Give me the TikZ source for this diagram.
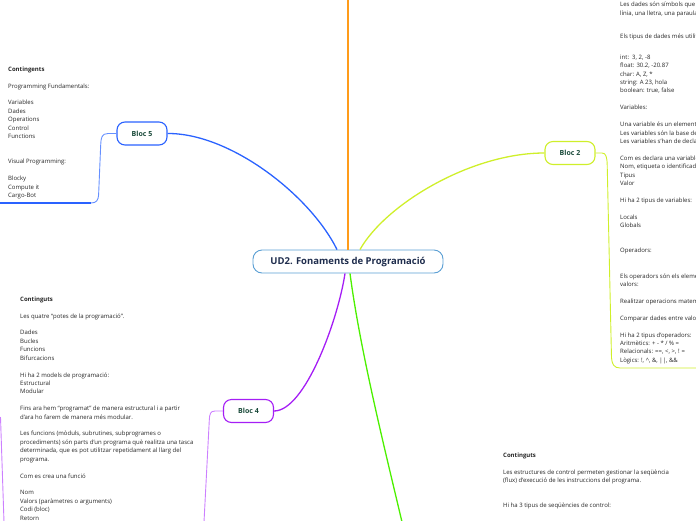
\documentclass[tikz,border=0pt]{standalone}
\usepackage{fontspec}
\setmainfont{Open Sans}
\definecolor{navy}{HTML}{1F2D4D}
\definecolor{labelc}{HTML}{1A4A3A}
\definecolor{centerb}{HTML}{5A9FD4}
\definecolor{blueA}{HTML}{2A62FF}
\definecolor{blueB}{HTML}{6690FF}
\definecolor{orangeA}{HTML}{FF9C1A}
\definecolor{ygreen}{HTML}{CFEF2A}
\definecolor{purpA}{HTML}{A51EF5}
\definecolor{purpB}{HTML}{CC80FF}
\definecolor{greenA}{HTML}{4CF000}
\begin{document}
\begin{tikzpicture}[x=1pt,y=-1pt,
  txt/.style={anchor=north west,inner sep=0pt,align=left,font=\fontsize{6}{8.42}\selectfont,text=black!85},
  bloc/.style={draw,line width=1.1pt,rounded corners=8pt,fill=white,minimum width=50pt,minimum height=23pt,inner sep=0pt,font=\bfseries\fontsize{7}{8}\selectfont,text=labelc},
  conn/.style={line width=1.3pt},
  brk/.style={line width=0.9pt}]
\useasboundingbox (0,0) rectangle (696,520);
\clip (0,0) rectangle (696,520);

% central node
\node[draw=centerb,line width=0.9pt,rounded corners=9pt,fill=white,minimum width=190pt,minimum height=23pt,inner sep=0pt,
  font=\bfseries\fontsize{9.5}{11}\selectfont,text=navy] (root) at (348,261.5) {UD2. Fonaments de Programació};

% branch nodes
\node[bloc,draw=blueA] (b5) at (142,133.5) {Bloc 5};
\node[bloc,draw=ygreen] (b2) at (570,153) {Bloc 2};
\node[bloc,draw=purpA] (b4) at (248.5,411) {Bloc 4};

% free ends
\coordinate (otop) at (348,-2);
\coordinate (gend) at (402,522);
\coordinate (e5) at (-2,203);
\coordinate (e2) at (698,368);
\coordinate (e4) at (204,522);
\coordinate (lp1) at (0.5,417);
\coordinate (lp2) at (4,522);

% main connectors
\draw[conn,orangeA] (root.north) -- (otop);
\draw[conn,blueA] ([xshift=-11pt]root.north) .. controls (310,195) and (230,133) .. (b5.east);
\draw[conn,ygreen] ([xshift=12pt]root.north) .. controls (385,205) and (470,153) .. (b2.west);
\draw[conn,purpA] ([xshift=-3pt]root.south) .. controls (338,320) and (305,411) .. (b4.east);
\draw[conn,greenA] ([xshift=2pt]root.south) .. controls (360,350) and (385,450) .. (gend);

% brackets
\draw[brk,blueB] (b5.west) -- (108,133.5) .. controls (101.5,133.5) and (101,138) .. (100.7,145) -- (98.6,195) .. controls (98.3,200) and (96.5,203) .. (91,203);
\draw[line width=1.2pt,blueA] (91,203) -- (e5);
\draw[brk,ygreen] (b2.east) -- (602,153) .. controls (606,153) and (607,157) .. (607.2,165) -- (611.5,358) .. controls (612,364) and (614,368) .. (620,368) -- (e2);
\draw[brk,purpB] (b4.west) -- (215,411) .. controls (210.5,411) and (209.5,414) .. (209.3,420) -- (e4);
\draw[brk,purpB] (lp1) -- (lp2);

% text blocks
\node[txt] (t5) at (8,66.5) {\textbf{Contingents}\\[8.42pt]
Programming Fundamentals:\\[8.42pt]
Variables\\
Dades\\
Operations\\
Control\\
Functions\\[16.84pt]
Visual Programming:\\[8.42pt]
Blocky\\
Compute it\\
Cargo-Bot};

\node[txt] (t2) at (620,2) {Les dades són símbols que s'introdueixen a l'ordinador\\
línia, una lletra, una paraula o un número\\[14.6pt]
Els tipus de dades més utilitzats són:\\[12.6pt]
int:\ \ 3, 2, -8\\
float: 30.2, -20.87\\
char: A, Z, *\\
string: A 23, hola\\
boolean: true, false\\[8.42pt]
Variables:\\[8.42pt]
Una variable és un element on s'emmagatzemen dades\\
Les variables són la base de la programació\\
Les variables s'han de declarar\\[8.42pt]
Com es declara una variable:\\
Nom, etiqueta o identificador\\
Tipus\\
Valor\\[8.42pt]
Hi ha 2 tipus de variables:\\[8.42pt]
Locals\\
Globals\\[16.84pt]
Operadors:\\[16.84pt]
Els operadors són els elements que permeten operar amb\\
valors:\\[8.42pt]
Realitzar operacions matemàtiques\\[8.42pt]
Comparar dades entre valors\\[8.42pt]
Hi ha 2 tipus d'operadors:\\
Aritmètics: + - * / \% =\\
Relacionals: ==, <, >, ! =\\
Lògics: !, \^{}, \&, ||, \&\&};

\node[txt] (t4) at (20,296.5) {\textbf{Continguts}\\[8.42pt]
Les quatre “potes de la programació”.\\[8.42pt]
Dades\\
Bucles\\
Funcions\\
Bifurcacions\\[8.42pt]
Hi ha 2 models de programació:\\
Estructural\\
Modular\\[8.42pt]
Fins ara hem “programat” de manera estructural i a partir\\
d'ara ho farem de manera més modular.\\[8.42pt]
Les funcions (mòduls, subrutines, subprogrames o\\
procediments) són parts d'un programa què realitza una tasca\\
determinada, que es pot utilitzar repetidament al llarg del\\
programa.\\[8.42pt]
Com es crea una funció\\[8.42pt]
Nom\\
Valors (paràmetres o arguments)\\
Codi (bloc)\\
Retorn};

\node[txt] (t3) at (503,452.5) {\textbf{Continguts}\\[8.42pt]
Les estructures de control permeten gestionar la seqüència\\
(flux) d'execució de les instruccions del programa.\\[16.84pt]
Hi ha 3 tipus de seqüències de control:};
\end{tikzpicture}
\end{document}
